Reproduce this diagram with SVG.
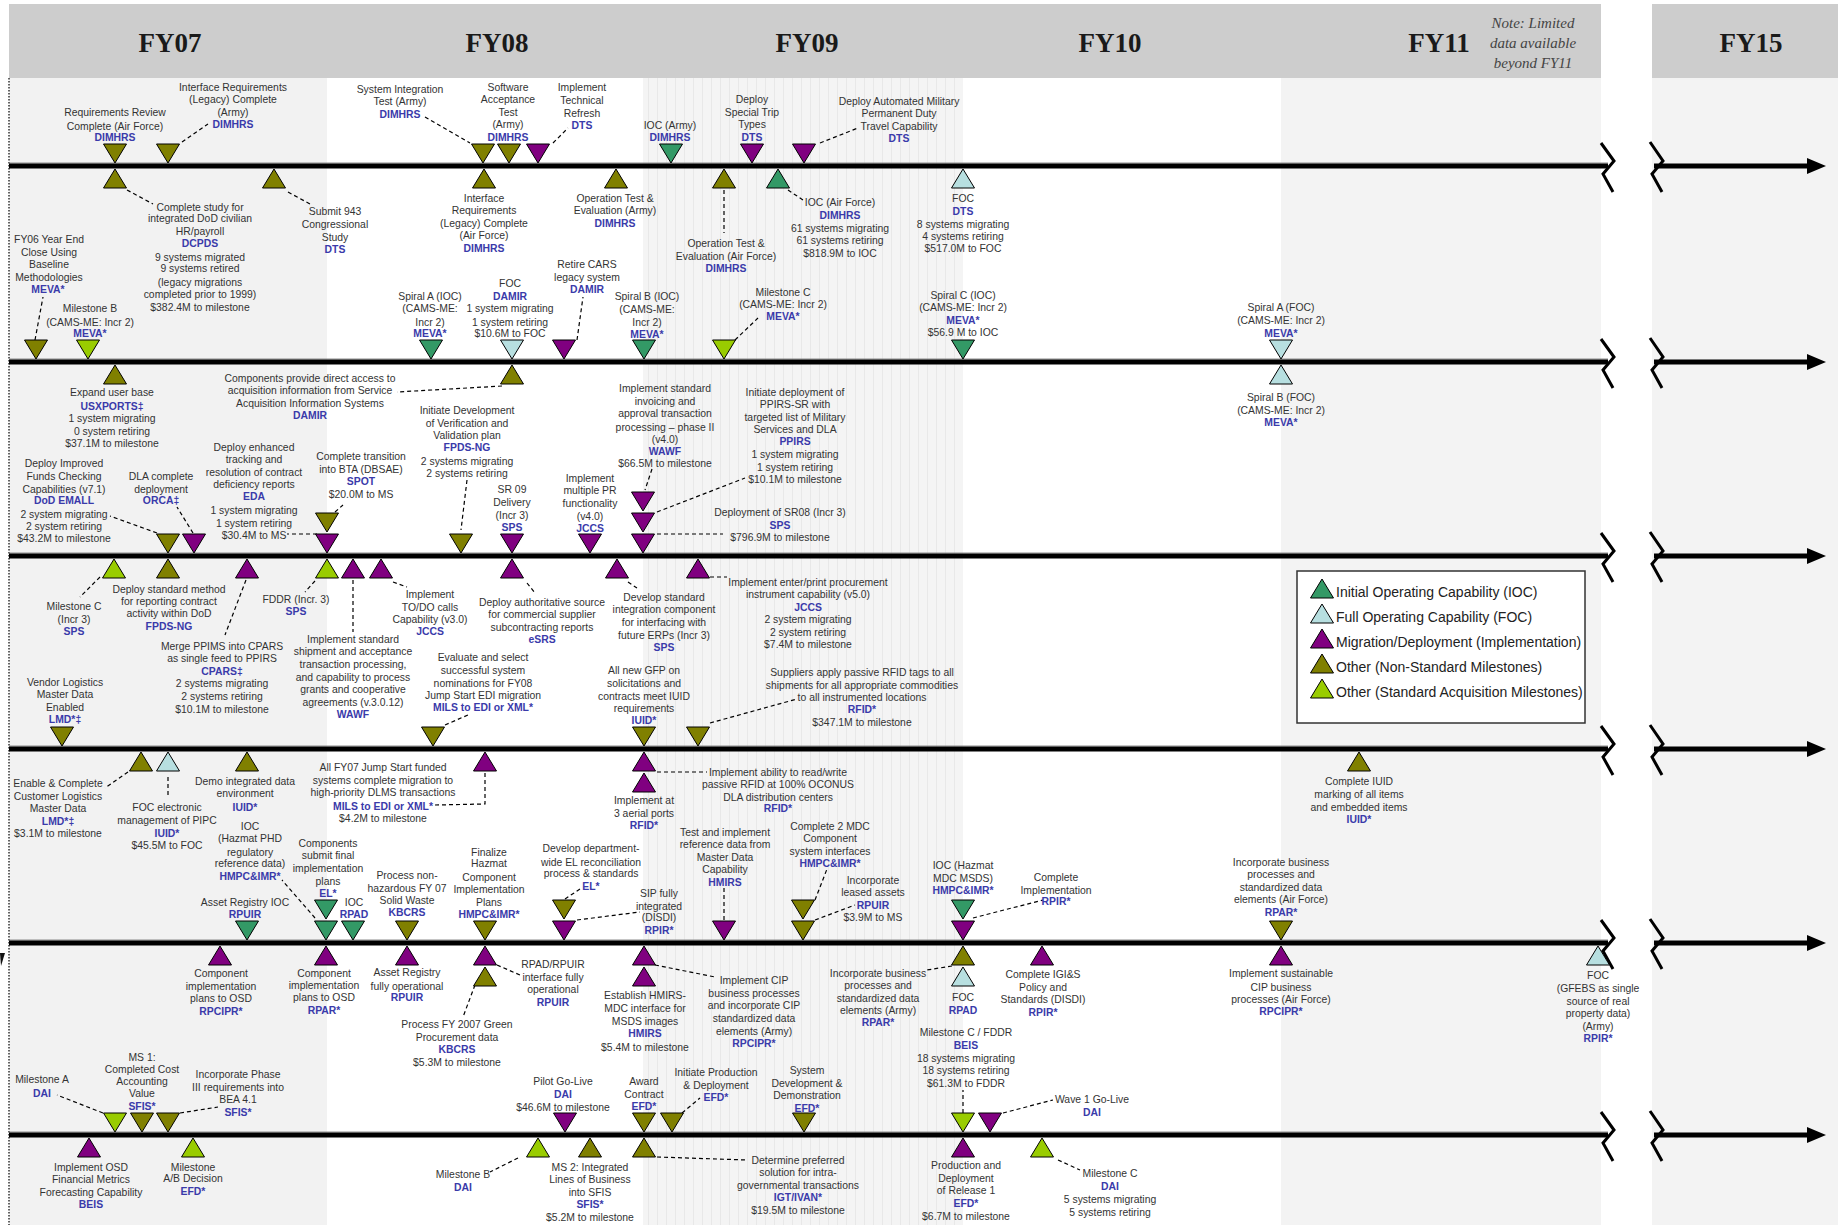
<svg xmlns="http://www.w3.org/2000/svg" xmlns:xlink="http://www.w3.org/1999/xlink" width="1838" height="1225" viewBox="0 0 1838 1225">
<style>
.t{font-family:"Liberation Sans",Arial,sans-serif;font-size:10.4px;fill:#333;text-anchor:middle;dominant-baseline:central}
.t tspan{dominant-baseline:central}
.b{fill:#3a3aaa;font-weight:bold}
.ioc{fill:#339966}.foc{fill:#b7dfe0}.mig{fill:#800080}.ol{fill:#808000}.yg{fill:#99cc00}
.ld{fill:none;stroke:#000;stroke-width:1.2;stroke-dasharray:4 3}
.tl{stroke:#000;stroke-width:5}
.tg{stroke:#8a8a8a;stroke-width:1}
.br{fill:none;stroke:#000;stroke-width:3}
.fy{font-family:"Liberation Serif","Times New Roman",serif;font-size:27px;font-weight:bold;fill:#1a1a1a;text-anchor:middle}
.note{font-family:"Liberation Serif","Times New Roman",serif;font-size:15px;font-style:italic;fill:#444;text-anchor:middle}
.lg{font-family:"Liberation Sans",Arial,sans-serif;font-size:14px;fill:#222}
</style>
<defs>
<polygon id="dn" points="-11.5,-19 11.5,-19 0,0" stroke="#000" stroke-width="1"/>
<polygon id="up" points="-11.5,19 11.5,19 0,0" stroke="#000" stroke-width="1"/>
<pattern id="str" width="9" height="10" patternUnits="userSpaceOnUse"><rect width="9" height="10" fill="#f4f4f4"/><line x1="0.5" y1="0" x2="0.5" y2="10" stroke="#e8e8e8" stroke-width="1"/></pattern>
</defs>

<g id="background">
<rect x="0" y="0" width="1838" height="1225" fill="#fff"/>
<rect x="9" y="78" width="318" height="1147" fill="#f2f2f2"/>
<rect x="643" y="78" width="320" height="1147" fill="url(#str)"/>
<rect x="1281" y="78" width="320" height="1147" fill="#f3f3f3"/>
<rect x="1652" y="78" width="186" height="1147" fill="#f3f3f3"/>
<rect x="9" y="4" width="1592" height="74" fill="#cdcdcd"/>
<rect x="1652" y="4" width="186" height="74" fill="#cdcdcd"/>
<line x1="9" y1="78" x2="9" y2="1225" stroke="#333" stroke-width="1.5" stroke-dasharray="1.5 1.5"/>
<path d="M0,953 L5,953 L1,966 Z" fill="#111"/>
</g>

<g id="header">
<text class="fy" x="170" y="52">FY07</text>
<text class="fy" x="497" y="52">FY08</text>
<text class="fy" x="807" y="52">FY09</text>
<text class="fy" x="1110" y="52">FY10</text>
<text class="fy" x="1439" y="52">FY11</text>
<text class="fy" x="1751" y="52">FY15</text>
<text class="note"><tspan x="1533" y="28">Note: Limited</tspan><tspan x="1533" y="48">data available</tspan><tspan x="1533" y="68">beyond FY11</tspan></text>
</g>

<g id="timelines">
<line class="tg" x1="9" y1="163" x2="1608" y2="163"/><line class="tl" x1="9" y1="166" x2="1608" y2="166"/>
<line class="tg" x1="9" y1="359" x2="1608" y2="359"/><line class="tl" x1="9" y1="362" x2="1608" y2="362"/>
<line class="tg" x1="9" y1="553" x2="1608" y2="553"/><line class="tl" x1="9" y1="556" x2="1608" y2="556"/>
<line class="tg" x1="9" y1="746" x2="1608" y2="746"/><line class="tl" x1="9" y1="749" x2="1608" y2="749"/>
<line class="tg" x1="9" y1="940" x2="1608" y2="940"/><line class="tl" x1="9" y1="943" x2="1608" y2="943"/>
<line class="tg" x1="9" y1="1132" x2="1608" y2="1132"/><line class="tl" x1="9" y1="1135" x2="1608" y2="1135"/>
<polyline class="br" points="1601,143 1614,161 1603,174 1613,192"/><polyline class="br" points="1650,142 1663,161 1652,174 1662,192"/><line class="tl" x1="1654" y1="166" x2="1810" y2="166"/><polygon points="1807,158 1826,166 1807,174"/>
<polyline class="br" points="1601,339 1614,357 1603,370 1613,388"/><polyline class="br" points="1650,338 1663,357 1652,370 1662,388"/><line class="tl" x1="1654" y1="362" x2="1810" y2="362"/><polygon points="1807,354 1826,362 1807,370"/>
<polyline class="br" points="1601,533 1614,551 1603,564 1613,582"/><polyline class="br" points="1650,532 1663,551 1652,564 1662,582"/><line class="tl" x1="1654" y1="556" x2="1810" y2="556"/><polygon points="1807,548 1826,556 1807,564"/>
<polyline class="br" points="1601,726 1614,744 1603,757 1613,775"/><polyline class="br" points="1650,725 1663,744 1652,757 1662,775"/><line class="tl" x1="1654" y1="749" x2="1810" y2="749"/><polygon points="1807,741 1826,749 1807,757"/>
<polyline class="br" points="1601,920 1614,938 1603,951 1613,969"/><polyline class="br" points="1650,919 1663,938 1652,951 1662,969"/><line class="tl" x1="1654" y1="943" x2="1810" y2="943"/><polygon points="1807,935 1826,943 1807,951"/>
<polyline class="br" points="1601,1112 1614,1130 1603,1143 1613,1161"/><polyline class="br" points="1650,1111 1663,1130 1652,1143 1662,1161"/><line class="tl" x1="1654" y1="1135" x2="1810" y2="1135"/><polygon points="1807,1127 1826,1135 1807,1143"/>
</g>

<g id="connectors">
<path class="ld" d="M182,142 L208,124"/>
<path class="ld" d="M425,117 L470,143"/>
<path class="ld" d="M553,143 L568,128"/>
<path class="ld" d="M820,143 L858,128"/>
<path class="ld" d="M127,190 L153,204"/>
<path class="ld" d="M288,192 L310,204"/>
<path class="ld" d="M724,190 L724,233"/>
<path class="ld" d="M788,190 L803,200"/>
<path class="ld" d="M35,340 L43,297"/>
<path class="ld" d="M577,340 L583,297"/>
<path class="ld" d="M735,340 L758,318"/>
<path class="ld" d="M502,386 L397,392"/>
<path class="ld" d="M157,533 L110,516"/>
<path class="ld" d="M193,533 L177,507"/>
<path class="ld" d="M335,512 L343,505"/>
<path class="ld" d="M317,534 L287,534"/>
<path class="ld" d="M467,480 L461,530"/>
<path class="ld" d="M652,469 L645,490"/>
<path class="ld" d="M657,512 L745,478"/>
<path class="ld" d="M657,534 L723,534"/>
<path class="ld" d="M100,577 L80,597"/>
<path class="ld" d="M246,580 L225,635"/>
<path class="ld" d="M315,581 L305,592"/>
<path class="ld" d="M353,580 L353,632"/>
<path class="ld" d="M393,582 L407,587"/>
<path class="ld" d="M527,583 L535,593"/>
<path class="ld" d="M628,582 L637,588"/>
<path class="ld" d="M710,577 L727,577"/>
<path class="ld" d="M445,725 L468,715"/>
<path class="ld" d="M710,723 L797,699"/>
<path class="ld" d="M128,772 L105,788"/>
<path class="ld" d="M168,777 L168,798"/>
<path class="ld" d="M485,773 L485,804 L435,805"/>
<path class="ld" d="M657,772 L707,772"/>
<path class="ld" d="M315,918 L282,880"/>
<path class="ld" d="M565,899 L580,889"/>
<path class="ld" d="M577,920 L640,912"/>
<path class="ld" d="M724,920 L724,888"/>
<path class="ld" d="M815,900 L827,869"/>
<path class="ld" d="M815,920 L855,905"/>
<path class="ld" d="M973,918 L1043,900"/>
<path class="ld" d="M497,965 L520,975"/>
<path class="ld" d="M475,985 L463,1017"/>
<path class="ld" d="M655,965 L715,977"/>
<path class="ld" d="M952,966 L927,970"/>
<path class="ld" d="M103,1113 L57,1095"/>
<path class="ld" d="M180,1113 L218,1107"/>
<path class="ld" d="M682,1113 L700,1098"/>
<path class="ld" d="M963,1113 L963,1090"/>
<path class="ld" d="M1003,1113 L1053,1100"/>
<path class="ld" d="M518,1158 L490,1172"/>
<path class="ld" d="M657,1157 L747,1160"/>
<path class="ld" d="M1058,1160 L1080,1170"/>
</g>

<g id="n1"><use href="#dn" class="ol" x="115" y="163"/><text class="t"><tspan x="115" y="112">Requirements Review</tspan><tspan x="115" y="126">Complete (Air Force)</tspan><tspan class="b" x="115" y="137">DIMHRS</tspan></text></g>
<g id="n2"><use href="#dn" class="ol" x="168" y="163"/><text class="t"><tspan x="233" y="87">Interface Requirements</tspan><tspan x="233" y="99">(Legacy) Complete</tspan><tspan x="233" y="112">(Army)</tspan><tspan class="b" x="233" y="124">DIMHRS</tspan></text></g>
<g id="n3"><use href="#dn" class="ol" x="483" y="163"/><text class="t"><tspan x="400" y="89">System Integration</tspan><tspan x="400" y="101">Test (Army)</tspan><tspan class="b" x="400" y="114">DIMHRS</tspan></text></g>
<g id="n4"><use href="#dn" class="ol" x="509" y="163"/><text class="t"><tspan x="508" y="87">Software</tspan><tspan x="508" y="99">Acceptance</tspan><tspan x="508" y="112">Test</tspan><tspan x="508" y="124">(Army)</tspan><tspan class="b" x="508" y="137">DIMHRS</tspan></text></g>
<g id="n5"><use href="#dn" class="mig" x="538" y="163"/><text class="t"><tspan x="582" y="87">Implement</tspan><tspan x="582" y="100">Technical</tspan><tspan x="582" y="113">Refresh</tspan><tspan class="b" x="582" y="125">DTS</tspan></text></g>
<g id="n6"><use href="#dn" class="ioc" x="671" y="163"/><text class="t"><tspan x="670" y="125">IOC (Army)</tspan><tspan class="b" x="670" y="137">DIMHRS</tspan></text></g>
<g id="n7"><use href="#dn" class="mig" x="752" y="163"/><text class="t"><tspan x="752" y="99">Deploy</tspan><tspan x="752" y="112">Special Trip</tspan><tspan x="752" y="124">Types</tspan><tspan class="b" x="752" y="137">DTS</tspan></text></g>
<g id="n8"><use href="#dn" class="mig" x="804" y="163"/><text class="t"><tspan x="899" y="101">Deploy Automated Military</tspan><tspan x="899" y="113">Permanent Duty</tspan><tspan x="899" y="126">Travel Capability</tspan><tspan class="b" x="899" y="138">DTS</tspan></text></g>
<g id="n9"><use href="#up" class="ol" x="115" y="169"/><text class="t"><tspan x="200" y="207">Complete study for</tspan><tspan x="200" y="218">integrated DoD civilian</tspan><tspan x="200" y="231">HR/payroll</tspan><tspan class="b" x="200" y="243">DCPDS</tspan><tspan x="200" y="257">9 systems migrated</tspan><tspan x="200" y="268">9 systems retired</tspan><tspan x="200" y="282">(legacy migrations</tspan><tspan x="200" y="294">completed prior to 1999)</tspan><tspan x="200" y="307">$382.4M to milestone</tspan></text></g>
<g id="n10"><use href="#up" class="ol" x="274" y="169"/><text class="t"><tspan x="335" y="211">Submit 943</tspan><tspan x="335" y="224">Congressional</tspan><tspan x="335" y="237">Study</tspan><tspan class="b" x="335" y="249">DTS</tspan></text></g>
<g id="n11"><use href="#up" class="ol" x="484" y="169"/><text class="t"><tspan x="484" y="198">Interface</tspan><tspan x="484" y="210">Requirements</tspan><tspan x="484" y="223">(Legacy) Complete</tspan><tspan x="484" y="235">(Air Force)</tspan><tspan class="b" x="484" y="248">DIMHRS</tspan></text></g>
<g id="n12"><use href="#up" class="ol" x="616" y="169"/><text class="t"><tspan x="615" y="198">Operation Test &amp;</tspan><tspan x="615" y="210">Evaluation (Army)</tspan><tspan class="b" x="615" y="223">DIMHRS</tspan></text></g>
<g id="n13"><use href="#up" class="ol" x="724" y="169"/><text class="t"><tspan x="726" y="243">Operation Test &amp;</tspan><tspan x="726" y="256">Evaluation (Air Force)</tspan><tspan class="b" x="726" y="268">DIMHRS</tspan></text></g>
<g id="n14"><use href="#up" class="ioc" x="778" y="169"/><text class="t"><tspan x="840" y="202">IOC (Air Force)</tspan><tspan class="b" x="840" y="215">DIMHRS</tspan><tspan x="840" y="228">61 systems migrating</tspan><tspan x="840" y="240">61 systems retiring</tspan><tspan x="840" y="253">$818.9M to IOC</tspan></text></g>
<g id="n15"><use href="#up" class="foc" x="963" y="169"/><text class="t"><tspan x="963" y="198">FOC</tspan><tspan class="b" x="963" y="211">DTS</tspan><tspan x="963" y="224">8 systems migrating</tspan><tspan x="963" y="236">4 systems retiring</tspan><tspan x="963" y="248">$517.0M to FOC</tspan></text></g>

<g id="n16"><use href="#dn" class="ol" x="36" y="359"/><text class="t"><tspan x="49" y="239">FY06 Year End</tspan><tspan x="49" y="252">Close Using</tspan><tspan x="49" y="264">Baseline</tspan><tspan x="49" y="277">Methodologies</tspan><tspan class="b" x="48" y="289">MEVA*</tspan></text></g>
<g id="n17"><use href="#dn" class="yg" x="88" y="359"/><text class="t"><tspan x="90" y="308">Milestone B</tspan><tspan x="90" y="322">(CAMS-ME: Incr 2)</tspan><tspan class="b" x="90" y="333">MEVA*</tspan></text></g>
<g id="n18"><use href="#dn" class="ioc" x="431" y="359"/><text class="t"><tspan x="430" y="296">Spiral A (IOC)</tspan><tspan x="430" y="308">(CAMS-ME:</tspan><tspan x="430" y="322">Incr 2)</tspan><tspan class="b" x="430" y="333">MEVA*</tspan></text></g>
<g id="n19"><use href="#dn" class="foc" x="512" y="359"/><text class="t"><tspan x="510" y="283">FOC</tspan><tspan class="b" x="510" y="296">DAMIR</tspan><tspan x="510" y="308">1 system migrating</tspan><tspan x="510" y="322">1 system retiring</tspan><tspan x="510" y="333">$10.6M to FOC</tspan></text></g>
<g id="n20"><use href="#dn" class="mig" x="564" y="359"/><text class="t"><tspan x="587" y="264">Retire CARS</tspan><tspan x="587" y="277">legacy system</tspan><tspan class="b" x="587" y="289">DAMIR</tspan></text></g>
<g id="n21"><use href="#dn" class="ioc" x="644" y="359"/><text class="t"><tspan x="647" y="296">Spiral B (IOC)</tspan><tspan x="647" y="309">(CAMS-ME:</tspan><tspan x="647" y="322">Incr 2)</tspan><tspan class="b" x="647" y="334">MEVA*</tspan></text></g>
<g id="n22"><use href="#dn" class="yg" x="724" y="359"/><text class="t"><tspan x="783" y="292">Milestone C</tspan><tspan x="783" y="304">(CAMS-ME: Incr 2)</tspan><tspan class="b" x="783" y="316">MEVA*</tspan></text></g>
<g id="n23"><use href="#dn" class="ioc" x="963" y="359"/><text class="t"><tspan x="963" y="295">Spiral C (IOC)</tspan><tspan x="963" y="307">(CAMS-ME: Incr 2)</tspan><tspan class="b" x="963" y="320">MEVA*</tspan><tspan x="963" y="332">$56.9 M to IOC</tspan></text></g>
<g id="n24"><use href="#dn" class="foc" x="1281" y="359"/><text class="t"><tspan x="1281" y="307">Spiral A (FOC)</tspan><tspan x="1281" y="320">(CAMS-ME: Incr 2)</tspan><tspan class="b" x="1281" y="333">MEVA*</tspan></text></g>
<g id="n25"><use href="#up" class="ol" x="115" y="365"/><text class="t"><tspan x="112" y="392">Expand user base</tspan><tspan class="b" x="112" y="406">USXPORTS‡</tspan><tspan x="112" y="418">1 system migrating</tspan><tspan x="112" y="431">0 system retiring</tspan><tspan x="112" y="443">$37.1M to milestone</tspan></text></g>
<g id="n26"><use href="#up" class="ol" x="512" y="365"/><text class="t"><tspan x="310" y="378">Components provide direct access to</tspan><tspan x="310" y="390">acquisition information from Service</tspan><tspan x="310" y="403">Acquisition Information Systems</tspan><tspan class="b" x="310" y="415">DAMIR</tspan></text></g>
<g id="n27"><use href="#up" class="foc" x="1281" y="365"/><text class="t"><tspan x="1281" y="397">Spiral B (FOC)</tspan><tspan x="1281" y="410">(CAMS-ME: Incr 2)</tspan><tspan class="b" x="1281" y="422">MEVA*</tspan></text></g>

<g id="n28"><use href="#dn" class="ol" x="168" y="553"/><text class="t"><tspan x="64" y="463">Deploy Improved</tspan><tspan x="64" y="476">Funds Checking</tspan><tspan x="64" y="489">Capabilities (v7.1)</tspan><tspan class="b" x="64" y="500">DoD EMALL</tspan><tspan x="64" y="514">2 system migrating</tspan><tspan x="64" y="526">2 system retiring</tspan><tspan x="64" y="538">$43.2M to milestone</tspan></text></g>
<g id="n29"><use href="#dn" class="mig" x="194" y="553"/><text class="t"><tspan x="161" y="476">DLA complete</tspan><tspan x="161" y="489">deployment</tspan><tspan class="b" x="161" y="500">ORCA‡</tspan></text></g>
<g id="n30"><use href="#dn" class="ol" x="327" y="532"/><text class="t"><tspan x="361" y="456">Complete transition</tspan><tspan x="361" y="469">into BTA (DBSAE)</tspan><tspan class="b" x="361" y="481">SPOT</tspan><tspan x="361" y="494">$20.0M to MS</tspan></text></g>
<g id="n31"><use href="#dn" class="mig" x="327" y="553"/><text class="t"><tspan x="254" y="447">Deploy enhanced</tspan><tspan x="254" y="459">tracking and</tspan><tspan x="254" y="472">resolution of contract</tspan><tspan x="254" y="484">deficiency reports</tspan><tspan class="b" x="254" y="496">EDA</tspan><tspan x="254" y="510">1 system migrating</tspan><tspan x="254" y="523">1 system retiring</tspan><tspan x="254" y="535">$30.4M to MS</tspan></text></g>
<g id="n32"><use href="#dn" class="ol" x="461" y="553"/><text class="t"><tspan x="467" y="410">Initiate Development</tspan><tspan x="467" y="423">of Verification and</tspan><tspan x="467" y="435">Validation plan</tspan><tspan class="b" x="467" y="447">FPDS-NG</tspan><tspan x="467" y="461">2 systems migrating</tspan><tspan x="467" y="473">2 systems retiring</tspan></text></g>
<g id="n33"><use href="#dn" class="mig" x="512" y="553"/><text class="t"><tspan x="512" y="489">SR 09</tspan><tspan x="512" y="502">Delivery</tspan><tspan x="512" y="515">(Incr 3)</tspan><tspan class="b" x="512" y="527">SPS</tspan></text></g>
<g id="n34"><use href="#dn" class="mig" x="590" y="553"/><text class="t"><tspan x="590" y="478">Implement</tspan><tspan x="590" y="490">multiple PR</tspan><tspan x="590" y="503">functionality</tspan><tspan x="590" y="516">(v4.0)</tspan><tspan class="b" x="590" y="528">JCCS</tspan></text></g>
<g id="n35"><use href="#dn" class="mig" x="643" y="511"/><text class="t"><tspan x="665" y="388">Implement standard</tspan><tspan x="665" y="401">invoicing and</tspan><tspan x="665" y="413">approval transaction</tspan><tspan x="665" y="427">processing – phase II</tspan><tspan x="665" y="439">(v4.0)</tspan><tspan class="b" x="665" y="451">WAWF</tspan><tspan x="665" y="463">$66.5M to milestone</tspan></text></g>
<g id="n36"><use href="#dn" class="mig" x="643" y="532"/><text class="t"><tspan x="795" y="392">Initiate deployment of</tspan><tspan x="795" y="404">PPIRS-SR with</tspan><tspan x="795" y="417">targeted list of Military</tspan><tspan x="795" y="429">Services and DLA</tspan><tspan class="b" x="795" y="441">PPIRS</tspan><tspan x="795" y="454">1 system migrating</tspan><tspan x="795" y="467">1 system retiring</tspan><tspan x="795" y="479">$10.1M to milestone</tspan></text></g>
<g id="n37"><use href="#dn" class="mig" x="643" y="553"/><text class="t"><tspan x="780" y="512">Deployment of SR08 (Incr 3)</tspan><tspan class="b" x="780" y="525">SPS</tspan><tspan x="780" y="537">$796.9M to milestone</tspan></text></g>
<g id="n38"><use href="#up" class="yg" x="114" y="559"/><text class="t"><tspan x="74" y="606">Milestone C</tspan><tspan x="74" y="619">(Incr 3)</tspan><tspan class="b" x="74" y="631">SPS</tspan></text></g>
<g id="n39"><use href="#up" class="ol" x="168" y="559"/><text class="t"><tspan x="169" y="589">Deploy standard method</tspan><tspan x="169" y="601">for reporting contract</tspan><tspan x="169" y="613">activity within DoD</tspan><tspan class="b" x="169" y="626">FPDS-NG</tspan></text></g>
<g id="n40"><use href="#up" class="mig" x="247" y="559"/><text class="t"><tspan x="222" y="646">Merge PPIMS into CPARS</tspan><tspan x="222" y="658">as single feed to PPIRS</tspan><tspan class="b" x="222" y="671">CPARS‡</tspan><tspan x="222" y="683">2 systems migrating</tspan><tspan x="222" y="696">2 systems retiring</tspan><tspan x="222" y="709">$10.1M to milestone</tspan></text></g>
<g id="n41"><use href="#up" class="yg" x="327" y="559"/><text class="t"><tspan x="296" y="599">FDDR (Incr. 3)</tspan><tspan class="b" x="296" y="611">SPS</tspan></text></g>
<g id="n42"><use href="#up" class="mig" x="353" y="559"/><text class="t"><tspan x="353" y="639">Implement standard</tspan><tspan x="353" y="651">shipment and acceptance</tspan><tspan x="353" y="664">transaction processing,</tspan><tspan x="353" y="677">and capability to process</tspan><tspan x="353" y="689">grants and cooperative</tspan><tspan x="353" y="702">agreements (v.3.0.12)</tspan><tspan class="b" x="353" y="714">WAWF</tspan></text></g>
<g id="n43"><use href="#up" class="mig" x="381" y="559"/><text class="t"><tspan x="430" y="594">Implement</tspan><tspan x="430" y="607">TO/DO calls</tspan><tspan x="430" y="619">Capability (v3.0)</tspan><tspan class="b" x="430" y="631">JCCS</tspan></text></g>
<g id="n44"><use href="#up" class="mig" x="512" y="559"/><text class="t"><tspan x="542" y="602">Deploy authoritative source</tspan><tspan x="542" y="614">for commercial supplier</tspan><tspan x="542" y="627">subcontracting reports</tspan><tspan class="b" x="542" y="639">eSRS</tspan></text></g>
<g id="n45"><use href="#up" class="mig" x="617" y="559"/><text class="t"><tspan x="664" y="597">Develop standard</tspan><tspan x="664" y="609">integration component</tspan><tspan x="664" y="622">for interfacing with</tspan><tspan x="664" y="635">future ERPs (Incr 3)</tspan><tspan class="b" x="664" y="647">SPS</tspan></text></g>
<g id="n46"><use href="#up" class="mig" x="698" y="559"/><text class="t"><tspan x="808" y="582">Implement enter/print procurement</tspan><tspan x="808" y="594">instrument capability (v5.0)</tspan><tspan class="b" x="808" y="607">JCCS</tspan><tspan x="808" y="619">2 system migrating</tspan><tspan x="808" y="632">2 system retiring</tspan><tspan x="808" y="644">$7.4M to milestone</tspan></text></g>

<g id="n47"><use href="#dn" class="ol" x="62" y="746"/><text class="t"><tspan x="65" y="682">Vendor Logistics</tspan><tspan x="65" y="694">Master Data</tspan><tspan x="65" y="707">Enabled</tspan><tspan class="b" x="65" y="719">LMD*‡</tspan></text></g>
<g id="n48"><use href="#dn" class="ol" x="433" y="746"/><text class="t"><tspan x="483" y="657">Evaluate and select</tspan><tspan x="483" y="670">successful system</tspan><tspan x="483" y="683">nominations for FY08</tspan><tspan x="483" y="695">Jump Start EDI migration</tspan><tspan class="b" x="483" y="707">MILS to EDI or XML*</tspan></text></g>
<g id="n49"><use href="#dn" class="ol" x="644" y="746"/><text class="t"><tspan x="644" y="670">All new GFP on</tspan><tspan x="644" y="683">solicitations and</tspan><tspan x="644" y="696">contracts meet IUID</tspan><tspan x="644" y="708">requirements</tspan><tspan class="b" x="644" y="720">IUID*</tspan></text></g>
<g id="n50"><use href="#dn" class="ol" x="698" y="746"/><text class="t"><tspan x="862" y="672">Suppliers apply passive RFID tags to all</tspan><tspan x="862" y="685">shipments for all appropriate commodities</tspan><tspan x="862" y="697">to all instrumented locations</tspan><tspan class="b" x="862" y="709">RFID*</tspan><tspan x="862" y="722">$347.1M to milestone</tspan></text></g>
<g id="n51"><use href="#up" class="ol" x="141" y="752"/><text class="t"><tspan x="58" y="783">Enable &amp; Complete</tspan><tspan x="58" y="796">Customer Logistics</tspan><tspan x="58" y="808">Master Data</tspan><tspan class="b" x="58" y="821">LMD*‡</tspan><tspan x="58" y="833">$3.1M to milestone</tspan></text></g>
<g id="n52"><use href="#up" class="foc" x="168" y="752"/><text class="t"><tspan x="167" y="807">FOC electronic</tspan><tspan x="167" y="820">management of PIPC</tspan><tspan class="b" x="167" y="833">IUID*</tspan><tspan x="167" y="845">$45.5M to FOC</tspan></text></g>
<g id="n53"><use href="#up" class="ol" x="247" y="752"/><text class="t"><tspan x="245" y="781">Demo integrated data</tspan><tspan x="245" y="793">environment</tspan><tspan class="b" x="245" y="807">IUID*</tspan></text></g>
<g id="n54"><use href="#up" class="mig" x="485" y="752"/><text class="t"><tspan x="383" y="767">All FY07 Jump Start funded</tspan><tspan x="383" y="780">systems complete migration to</tspan><tspan x="383" y="792">high-priority DLMS transactions</tspan><tspan class="b" x="383" y="806">MILS to EDI or XML*</tspan><tspan x="383" y="818">$4.2M to milestone</tspan></text></g>
<g id="n55"><use href="#up" class="mig" x="644" y="752"/><text class="t"><tspan x="778" y="772">Implement ability to read/write</tspan><tspan x="778" y="784">passive RFID at 100% OCONUS</tspan><tspan x="778" y="797">DLA distribution centers</tspan><tspan class="b" x="778" y="808">RFID*</tspan></text></g>
<g id="n56"><use href="#up" class="mig" x="644" y="773"/><text class="t"><tspan x="644" y="800">Implement at</tspan><tspan x="644" y="813">3 aerial ports</tspan><tspan class="b" x="644" y="825">RFID*</tspan></text></g>
<g id="n57"><use href="#up" class="ol" x="1359" y="752"/><text class="t"><tspan x="1359" y="781">Complete IUID</tspan><tspan x="1359" y="794">marking of all items</tspan><tspan x="1359" y="807">and embedded items</tspan><tspan class="b" x="1359" y="819">IUID*</tspan></text></g>

<g id="n58"><use href="#dn" class="ioc" x="247" y="940"/><text class="t"><tspan x="245" y="902">Asset Registry IOC</tspan><tspan class="b" x="245" y="914">RPUIR</tspan></text></g>
<g id="n59"><use href="#dn" class="ioc" x="326" y="919"/><text class="t"><tspan x="328" y="843">Components</tspan><tspan x="328" y="855">submit final</tspan><tspan x="328" y="868">implementation</tspan><tspan x="328" y="881">plans</tspan><tspan class="b" x="328" y="893">EL*</tspan></text></g>
<g id="n60"><use href="#dn" class="ioc" x="326" y="940"/><text class="t"><tspan x="250" y="826">IOC</tspan><tspan x="250" y="838">(Hazmat PHD</tspan><tspan x="250" y="852">regulatory</tspan><tspan x="250" y="863">reference data)</tspan><tspan class="b" x="250" y="876">HMPC&amp;IMR*</tspan></text></g>
<g id="n61"><use href="#dn" class="ioc" x="353" y="940"/><text class="t"><tspan x="354" y="902">IOC</tspan><tspan class="b" x="354" y="914">RPAD</tspan></text></g>
<g id="n62"><use href="#dn" class="ol" x="407" y="940"/><text class="t"><tspan x="407" y="875">Process non-</tspan><tspan x="407" y="888">hazardous FY 07</tspan><tspan x="407" y="900">Solid Waste</tspan><tspan class="b" x="407" y="912">KBCRS</tspan></text></g>
<g id="n63"><use href="#dn" class="ol" x="485" y="940"/><text class="t"><tspan x="489" y="852">Finalize</tspan><tspan x="489" y="863">Hazmat</tspan><tspan x="489" y="877">Component</tspan><tspan x="489" y="889">Implementation</tspan><tspan x="489" y="902">Plans</tspan><tspan class="b" x="489" y="914">HMPC&amp;IMR*</tspan></text></g>
<g id="n64"><use href="#dn" class="ol" x="564" y="919"/><text class="t"><tspan x="591" y="848">Develop department-</tspan><tspan x="591" y="862">wide EL reconciliation</tspan><tspan x="591" y="873">process &amp; standards</tspan><tspan class="b" x="591" y="886">EL*</tspan></text></g>
<g id="n65"><use href="#dn" class="mig" x="564" y="940"/><text class="t"><tspan x="659" y="893">SIP fully</tspan><tspan x="659" y="906">integrated</tspan><tspan x="659" y="917">(DISDI)</tspan><tspan class="b" x="659" y="930">RPIR*</tspan></text></g>
<g id="n66"><use href="#dn" class="mig" x="724" y="940"/><text class="t"><tspan x="725" y="832">Test and implement</tspan><tspan x="725" y="844">reference data from</tspan><tspan x="725" y="857">Master Data</tspan><tspan x="725" y="869">Capability</tspan><tspan class="b" x="725" y="882">HMIRS</tspan></text></g>
<g id="n67"><use href="#dn" class="ol" x="803" y="919"/><text class="t"><tspan x="830" y="826">Complete 2 MDC</tspan><tspan x="830" y="838">Component</tspan><tspan x="830" y="851">system interfaces</tspan><tspan class="b" x="830" y="863">HMPC&amp;IMR*</tspan></text></g>
<g id="n68"><use href="#dn" class="ol" x="803" y="940"/><text class="t"><tspan x="873" y="880">Incorporate</tspan><tspan x="873" y="892">leased assets</tspan><tspan class="b" x="873" y="905">RPUIR</tspan><tspan x="873" y="917">$3.9M to MS</tspan></text></g>
<g id="n69"><use href="#dn" class="ioc" x="963" y="919"/><text class="t"><tspan x="963" y="865">IOC (Hazmat</tspan><tspan x="963" y="878">MDC MSDS)</tspan><tspan class="b" x="963" y="890">HMPC&amp;IMR*</tspan></text></g>
<g id="n70"><use href="#dn" class="mig" x="963" y="940"/><text class="t"><tspan x="1056" y="877">Complete</tspan><tspan x="1056" y="890">Implementation</tspan><tspan class="b" x="1056" y="901">RPIR*</tspan></text></g>
<g id="n71"><use href="#dn" class="ol" x="1281" y="940"/><text class="t"><tspan x="1281" y="862">Incorporate business</tspan><tspan x="1281" y="874">processes and</tspan><tspan x="1281" y="887">standardized data</tspan><tspan x="1281" y="899">elements (Air Force)</tspan><tspan class="b" x="1281" y="912">RPAR*</tspan></text></g>
<g id="n72"><use href="#up" class="mig" x="220" y="946"/><text class="t"><tspan x="221" y="973">Component</tspan><tspan x="221" y="986">implementation</tspan><tspan x="221" y="998">plans to OSD</tspan><tspan class="b" x="221" y="1011">RPCIPR*</tspan></text></g>
<g id="n73"><use href="#up" class="mig" x="326" y="946"/><text class="t"><tspan x="324" y="973">Component</tspan><tspan x="324" y="985">implementation</tspan><tspan x="324" y="997">plans to OSD</tspan><tspan class="b" x="324" y="1010">RPAR*</tspan></text></g>
<g id="n74"><use href="#up" class="mig" x="407" y="946"/><text class="t"><tspan x="407" y="972">Asset Registry</tspan><tspan x="407" y="986">fully operational</tspan><tspan class="b" x="407" y="997">RPUIR</tspan></text></g>
<g id="n75"><use href="#up" class="mig" x="485" y="946"/><text class="t"><tspan x="553" y="964">RPAD/RPUIR</tspan><tspan x="553" y="977">interface fully</tspan><tspan x="553" y="989">operational</tspan><tspan class="b" x="553" y="1002">RPUIR</tspan></text></g>
<g id="n76"><use href="#up" class="ol" x="485" y="967"/><text class="t"><tspan x="457" y="1024">Process FY 2007 Green</tspan><tspan x="457" y="1037">Procurement data</tspan><tspan class="b" x="457" y="1049">KBCRS</tspan><tspan x="457" y="1062">$5.3M to milestone</tspan></text></g>
<g id="n77"><use href="#up" class="mig" x="644" y="946"/><text class="t"><tspan x="754" y="980">Implement CIP</tspan><tspan x="754" y="993">business processes</tspan><tspan x="754" y="1005">and incorporate CIP</tspan><tspan x="754" y="1018">standardized data</tspan><tspan x="754" y="1031">elements (Army)</tspan><tspan class="b" x="754" y="1043">RPCIPR*</tspan></text></g>
<g id="n78"><use href="#up" class="mig" x="644" y="967"/><text class="t"><tspan x="645" y="995">Establish HMIRS-</tspan><tspan x="645" y="1008">MDC interface for</tspan><tspan x="645" y="1021">MSDS images</tspan><tspan class="b" x="645" y="1033">HMIRS</tspan><tspan x="645" y="1047">$5.4M to milestone</tspan></text></g>
<g id="n79"><use href="#up" class="ol" x="963" y="946"/><text class="t"><tspan x="878" y="973">Incorporate business</tspan><tspan x="878" y="985">processes and</tspan><tspan x="878" y="998">standardized data</tspan><tspan x="878" y="1010">elements (Army)</tspan><tspan class="b" x="878" y="1022">RPAR*</tspan></text></g>
<g id="n80"><use href="#up" class="foc" x="963" y="967"/><text class="t"><tspan x="963" y="997">FOC</tspan><tspan class="b" x="963" y="1010">RPAD</tspan></text></g>
<g id="n81"><use href="#up" class="mig" x="1042" y="946"/><text class="t"><tspan x="1043" y="974">Complete IGI&amp;S</tspan><tspan x="1043" y="987">Policy and</tspan><tspan x="1043" y="999">Standards (DISDI)</tspan><tspan class="b" x="1043" y="1012">RPIR*</tspan></text></g>
<g id="n82"><use href="#up" class="mig" x="1281" y="946"/><text class="t"><tspan x="1281" y="973">Implement sustainable</tspan><tspan x="1281" y="987">CIP business</tspan><tspan x="1281" y="999">processes (Air Force)</tspan><tspan class="b" x="1281" y="1011">RPCIPR*</tspan></text></g>
<g id="n83"><use href="#up" class="foc" x="1598" y="946"/><text class="t"><tspan x="1598" y="975">FOC</tspan><tspan x="1598" y="988">(GFEBS as single</tspan><tspan x="1598" y="1001">source of real</tspan><tspan x="1598" y="1013">property data)</tspan><tspan x="1598" y="1026">(Army)</tspan><tspan class="b" x="1598" y="1038">RPIR*</tspan></text></g>

<g id="n84"><use href="#dn" class="yg" x="115" y="1132"/><text class="t"><tspan x="42" y="1079">Milestone A</tspan><tspan class="b" x="42" y="1093">DAI</tspan></text></g>
<g id="n85"><use href="#dn" class="ol" x="142" y="1132"/><text class="t"><tspan x="142" y="1057">MS 1:</tspan><tspan x="142" y="1069">Completed Cost</tspan><tspan x="142" y="1081">Accounting</tspan><tspan x="142" y="1093">Value</tspan><tspan class="b" x="142" y="1106">SFIS*</tspan></text></g>
<g id="n86"><use href="#dn" class="ol" x="168" y="1132"/><text class="t"><tspan x="238" y="1074">Incorporate Phase</tspan><tspan x="238" y="1087">III requirements into</tspan><tspan x="238" y="1099">BEA 4.1</tspan><tspan class="b" x="238" y="1112">SFIS*</tspan></text></g>
<g id="n87"><use href="#dn" class="mig" x="565" y="1132"/><text class="t"><tspan x="563" y="1081">Pilot Go-Live</tspan><tspan class="b" x="563" y="1094">DAI</tspan><tspan x="563" y="1107">$46.6M to milestone</tspan></text></g>
<g id="n88"><use href="#dn" class="ol" x="644" y="1132"/><text class="t"><tspan x="644" y="1081">Award</tspan><tspan x="644" y="1094">Contract</tspan><tspan class="b" x="644" y="1106">EFD*</tspan></text></g>
<g id="n89"><use href="#dn" class="ol" x="672" y="1132"/><text class="t"><tspan x="716" y="1072">Initiate Production</tspan><tspan x="716" y="1085">&amp; Deployment</tspan><tspan class="b" x="716" y="1097">EFD*</tspan></text></g>
<g id="n90"><use href="#dn" class="ol" x="804" y="1132"/><text class="t"><tspan x="807" y="1070">System</tspan><tspan x="807" y="1083">Development &amp;</tspan><tspan x="807" y="1095">Demonstration</tspan><tspan class="b" x="807" y="1108">EFD*</tspan></text></g>
<g id="n91"><use href="#dn" class="yg" x="963" y="1132"/><text class="t"><tspan x="966" y="1032">Milestone C / FDDR</tspan><tspan class="b" x="966" y="1045">BEIS</tspan><tspan x="966" y="1058">18 systems migrating</tspan><tspan x="966" y="1070">18 systems retiring</tspan><tspan x="966" y="1083">$61.3M to FDDR</tspan></text></g>
<g id="n92"><use href="#dn" class="mig" x="990" y="1132"/><text class="t"><tspan x="1092" y="1099">Wave 1 Go-Live</tspan><tspan class="b" x="1092" y="1112">DAI</tspan></text></g>
<g id="n93"><use href="#up" class="mig" x="89" y="1138"/><text class="t"><tspan x="91" y="1167">Implement OSD</tspan><tspan x="91" y="1179">Financial Metrics</tspan><tspan x="91" y="1192">Forecasting Capability</tspan><tspan class="b" x="91" y="1204">BEIS</tspan></text></g>
<g id="n94"><use href="#up" class="yg" x="193" y="1138"/><text class="t"><tspan x="193" y="1167">Milestone</tspan><tspan x="193" y="1178">A/B Decision</tspan><tspan class="b" x="193" y="1191">EFD*</tspan></text></g>
<g id="n95"><use href="#up" class="yg" x="538" y="1138"/><text class="t"><tspan x="463" y="1174">Milestone B</tspan><tspan class="b" x="463" y="1187">DAI</tspan></text></g>
<g id="n96"><use href="#up" class="ol" x="590" y="1138"/><text class="t"><tspan x="590" y="1167">MS 2: Integrated</tspan><tspan x="590" y="1179">Lines of Business</tspan><tspan x="590" y="1192">into SFIS</tspan><tspan class="b" x="590" y="1204">SFIS*</tspan><tspan x="590" y="1217">$5.2M to milestone</tspan></text></g>
<g id="n97"><use href="#up" class="ol" x="644" y="1138"/><text class="t"><tspan x="798" y="1160">Determine preferred</tspan><tspan x="798" y="1172">solution for intra-</tspan><tspan x="798" y="1185">governmental transactions</tspan><tspan class="b" x="798" y="1197">IGT/IVAN*</tspan><tspan x="798" y="1210">$19.5M to milestone</tspan></text></g>
<g id="n98"><use href="#up" class="mig" x="963" y="1138"/><text class="t"><tspan x="966" y="1165">Production and</tspan><tspan x="966" y="1178">Deployment</tspan><tspan x="966" y="1190">of Release 1</tspan><tspan class="b" x="966" y="1203">EFD*</tspan><tspan x="966" y="1216">$6.7M to milestone</tspan></text></g>
<g id="n99"><use href="#up" class="yg" x="1042" y="1138"/><text class="t"><tspan x="1110" y="1173">Milestone C</tspan><tspan class="b" x="1110" y="1186">DAI</tspan><tspan x="1110" y="1199">5 systems migrating</tspan><tspan x="1110" y="1212">5 systems retiring</tspan></text></g>

<g id="legend">
<rect x="1297" y="571" width="288" height="152" fill="#fff" stroke="#333" stroke-width="1.5"/>
<use href="#up" class="ioc" x="1322" y="579"/><text class="lg" x="1336" y="597">Initial Operating Capability (IOC)</text>
<use href="#up" class="foc" x="1322" y="604"/><text class="lg" x="1336" y="622">Full Operating Capability (FOC)</text>
<use href="#up" class="mig" x="1322" y="629"/><text class="lg" x="1336" y="647">Migration/Deployment (Implementation)</text>
<use href="#up" class="ol" x="1322" y="654"/><text class="lg" x="1336" y="672">Other (Non-Standard Milestones)</text>
<use href="#up" class="yg" x="1322" y="679"/><text class="lg" x="1336" y="697">Other (Standard Acquisition Milestones)</text>
</g>
</svg>
